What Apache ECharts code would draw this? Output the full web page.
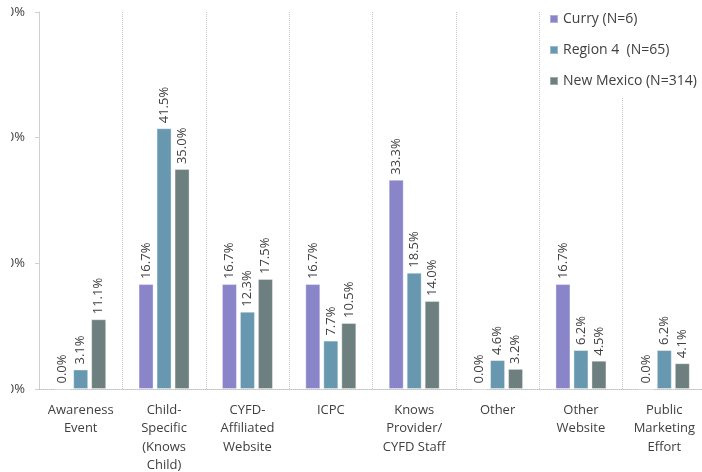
<!DOCTYPE html>
<html><head><meta charset="utf-8">
<script src="https://cdn.jsdelivr.net/npm/echarts@6/dist/echarts.min.js"></script>
<style>html,body{margin:0;padding:0;background:#fff;overflow:hidden}#c{width:702px;height:472px}</style>
</head><body><div id="c"></div>
<script>
const categories = ["Awareness\nEvent","Child-\nSpecific\n(Knows\nChild)","CYFD-\nAffiliated\nWebsite","ICPC","Knows\nProvider/\nCYFD Staff","Other","Other\nWebsite","Public\nMarketing\nEffort"];
const seriesNames = ["Curry (N=6)","Region 4  (N=65)","New Mexico (N=314)"];
const curry = [0.0, 16.7, 16.7, 16.7, 33.3, 0.0, 16.7, 0.0];
const region4 = [3.1, 41.5, 12.3, 7.7, 18.5, 4.6, 6.2, 6.2];
const newMexico = [11.1, 35.0, 17.5, 10.5, 14.0, 3.2, 4.5, 4.1];
const colors = ["#8A85C8","#6798AF","#6E7F80"];
const font = "'Open Sans', sans-serif";

const chart = echarts.init(document.getElementById('c'), null, {renderer:'canvas'});
function mk(name, data, color){
  return {
    name, type:'bar', data, barWidth:15, barGap:'20%',
    itemStyle:{color, borderColor:'rgba(255,255,255,0.35)', borderWidth:1},
    label:{show:true, position:'top', rotate:90, align:'left', verticalAlign:'middle', distance:5,
      fontFamily:font, fontSize:13, color:'#404040', formatter:p=>p.value.toFixed(1)+'%'}
  };
}
chart.setOption({
  animation:false,
  color:colors,
  grid:{left:39, right:-4, top:12, bottom:83, containLabel:false, outerBoundsMode:'none'},
  legend:{
    orient:'vertical', left:545, top:9, itemWidth:8, itemHeight:8, itemGap:17, icon:'rect',
    backgroundColor:'#fff', padding:[3,0,10,4],
    textStyle:{fontFamily:font, fontSize:14, color:'#404040'},
    data:seriesNames
  },
  xAxis:{
    type:'category', data:categories,
    axisLine:{show:true, lineStyle:{color:'#c0c0c0', type:'dotted'}},
    axisTick:{show:false},
    splitLine:{show:true, interval:0, lineStyle:{color:'#c8c8c8', type:'dotted'}},
    axisLabel:{interval:0, margin:12, fontFamily:font, fontSize:13, color:'#404040', lineHeight:18.5}
  },
  yAxis:{
    type:'value', min:0, max:60, interval:20,
    axisLine:{show:true, lineStyle:{color:'#d0d0d0'}},
    axisTick:{show:true, length:4, lineStyle:{color:'#d0d0d0'}},
    splitLine:{show:false},
    axisLabel:{margin:14, fontFamily:font, fontSize:13, color:'#404040', formatter:'{value}%'}
  },
  graphic:[{type:'rect', left:0, top:0, z:100, shape:{width:11, height:472}, style:{fill:'#fff'}}],
  series:[mk(seriesNames[0], curry, colors[0]), mk(seriesNames[1], region4, colors[1]), mk(seriesNames[2], newMexico, colors[2])]
});
</script></body></html>
